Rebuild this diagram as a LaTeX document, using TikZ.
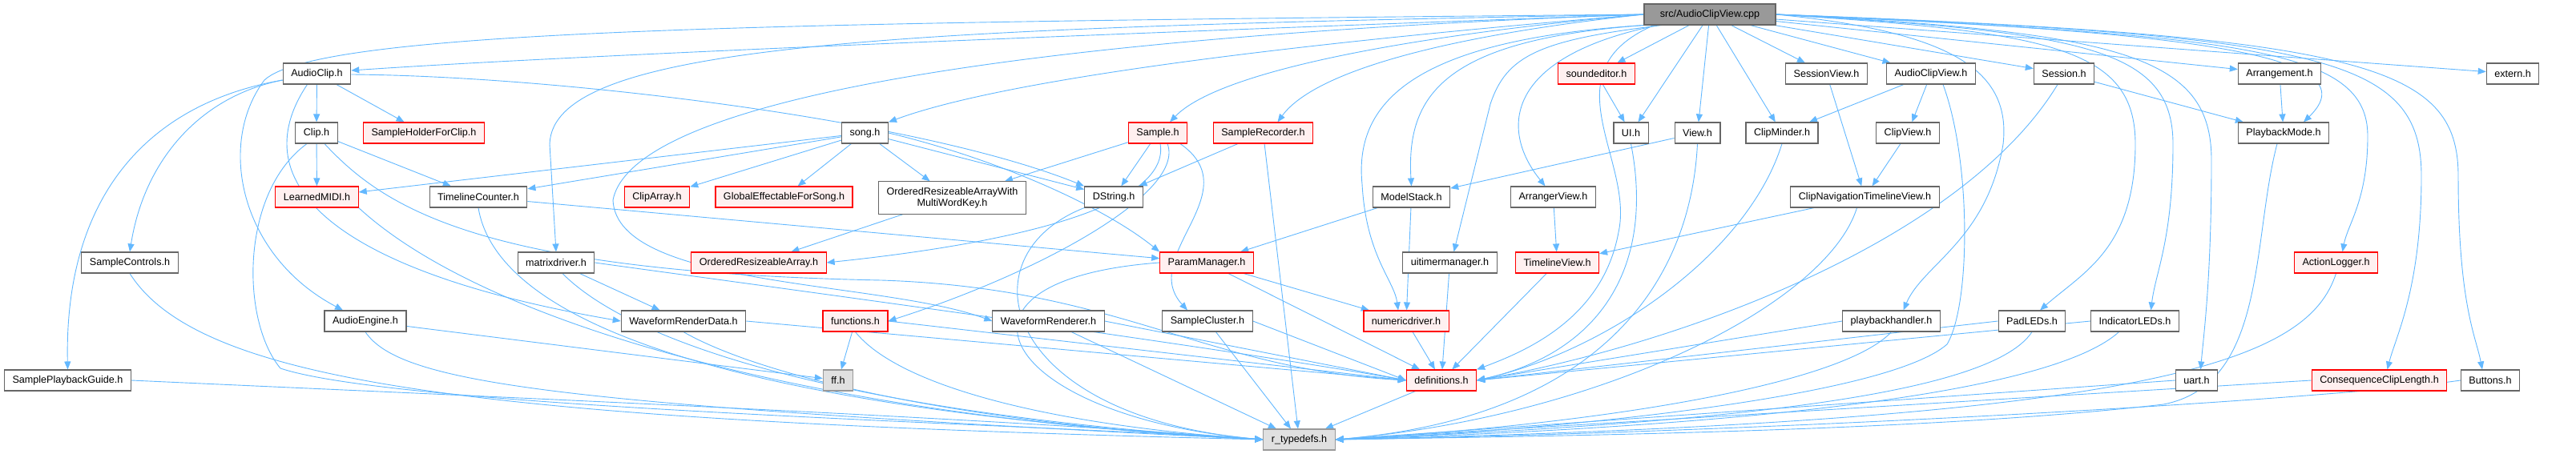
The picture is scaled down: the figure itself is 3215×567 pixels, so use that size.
\documentclass[tikz,border=0pt]{standalone}
\usepackage{fontspec}
\setmainfont{Liberation Sans}
\usetikzlibrary{arrows.meta, backgrounds}

\definecolor{incblue}{HTML}{63B8FF}
\definecolor{hdrred}{HTML}{FF0000}
\definecolor{hdrpink}{HTML}{FFF0F0}
\definecolor{hdrgray}{HTML}{666666}
\definecolor{maingray}{HTML}{999999}
\definecolor{extgray}{HTML}{E0E0E0}

\begin{document}
\begin{tikzpicture}[x=1pt, y=-1pt, >={Triangle[length=10pt,width=8pt]},
  hfile/.style={draw=hdrgray, fill=white, line width=1.1pt, inner xsep=10pt,
    inner ysep=3pt, minimum height=26pt, align=center,
    font=\fontsize{12.6}{14.5}\selectfont},
  hred/.style={hfile, draw=hdrred, fill=hdrpink},
  hmain/.style={hfile, fill=maingray},
  hext/.style={hfile, draw=maingray, fill=extgray},
  incl/.style={->, incblue, line width=0.9pt}
]
  \useasboundingbox (0,0) rectangle (3215,567);

  % row 0 and 1
  \node[hmain, minimum width=164pt] (cpp) at (2134,18) {src/AudioClipView.cpp};
  \node[hfile] (audioclip)     at (395.5,92)  {AudioClip.h};
  \node[hred]  (soundeditor)   at (1992.5,92) {soundeditor.h};
  \node[hfile] (sessionview)   at (2279.5,92) {SessionView.h};
  \node[hfile] (audioclipview) at (2410,92)   {AudioClipView.h};
  \node[hfile] (session)       at (2576,92)   {Session.h};
  \node[hfile] (arrangement)   at (2845,92)   {Arrangement.h};
  \node[hfile] (externh)       at (3136,92)   {extern.h};
  % row 2
  \node[hfile] (clip)           at (395,166)    {Clip.h};
  \node[hred]  (sampleholder)   at (529,166)    {SampleHolderForClip.h};
  \node[hfile] (song)           at (1079.5,166) {song.h};
  \node[hred]  (sample)         at (1445,166)   {Sample.h};
  \node[hred]  (samplerecorder) at (1576.5,166) {SampleRecorder.h};
  \node[hfile] (ui)             at (2035.5,166) {UI.h};
  \node[hfile] (view)           at (2118.5,166) {View.h};
  \node[hfile] (clipminder)     at (2224,166)   {ClipMinder.h};
  \node[hfile] (clipview)       at (2381,166)   {ClipView.h};
  \node[hfile] (playbackmode)   at (2850,166)   {PlaybackMode.h};
  % row 3
  \node[hred]  (learnedmidi)     at (395.5,246)  {LearnedMIDI.h};
  \node[hfile] (timelinecounter) at (597,246)    {TimelineCounter.h};
  \node[hred]  (cliparray)       at (820,246)    {ClipArray.h};
  \node[hred]  (globaleff)       at (978.5,246)  {GlobalEffectableForSong.h};
  \node[hfile, inner ysep=7pt] (orawmwk) at (1188.5,247)
    {OrderedResizeableArrayWith\\MultiWordKey.h};
  \node[hfile] (dstring)         at (1390,246)   {DString.h};
  \node[hfile] (modelstack)      at (1761.5,246) {ModelStack.h};
  \node[hfile] (arrangerview)    at (1938.5,246) {ArrangerView.h};
  \node[hfile] (clipnav)         at (2327.5,246) {ClipNavigationTimelineView.h};
  % row 4
  \node[hfile] (samplecontrols) at (162,328)    {SampleControls.h};
  \node[hfile] (matrixdriver)   at (694,328)    {matrixdriver.h};
  \node[hred]  (ordarray)       at (947,328)    {OrderedResizeableArray.h};
  \node[hred]  (parammanager)   at (1506,328)   {ParamManager.h};
  \node[hfile] (uitimer)        at (1809.5,328) {uitimermanager.h};
  \node[hred]  (timelineview)   at (1943.5,328) {TimelineView.h};
  \node[hred]  (actionlogger)   at (2915.5,328) {ActionLogger.h};
  % row 5
  \node[hfile] (audioengine)     at (456,401)    {AudioEngine.h};
  \node[hfile] (wfrenderdata)    at (853,401)    {WaveformRenderData.h};
  \node[hred]  (functions)       at (1067.5,401) {functions.h};
  \node[hfile] (wfrenderer)      at (1308.5,401) {WaveformRenderer.h};
  \node[hfile] (samplecluster)   at (1507,401)   {SampleCluster.h};
  \node[hred]  (numericdriver)   at (1755,401)   {numericdriver.h};
  \node[hfile] (playbackhandler) at (2360.5,401) {playbackhandler.h};
  \node[hfile] (padleds)         at (2536,401)   {PadLEDs.h};
  \node[hfile] (indicatorleds)   at (2664.5,401) {IndicatorLEDs.h};
  % row 6 and 7
  \node[hfile] (sampleplayback) at (84.5,475)   {SamplePlaybackGuide.h};
  \node[hext]  (ffh)            at (1046,475)   {ff.h};
  \node[hred]  (definitions)    at (1799,475)   {definitions.h};
  \node[hfile] (uart)           at (2741.5,475) {uart.h};
  \node[hred]  (consequence)    at (2969.5,475) {ConsequenceClipLength.h};
  \node[hfile] (buttons)        at (3108,475)   {Buttons.h};
  \node[hext]  (rtypedefs)      at (1621.5,549) {r\_typedefs.h};

  \begin{scope}[on background layer]
  % includes of the cpp file
  \draw[incl] (cpp.west) .. controls (1300,45) and (700,70) .. ([yshift=4pt]audioclip.east);
  \draw[incl] (cpp.west) .. controls (1000,28) and (400,35) .. (330,100)
    .. controls (270,180) and (300,320) .. ([xshift=-28pt]audioengine.north);
  \draw[incl] (cpp.west) .. controls (1100,35) and (690,55) .. (686,180) -- (matrixdriver.north);
  \draw[incl] (cpp.west) .. controls (1600,55) and (1250,100) .. (song.north east);
  \draw[incl] (cpp.west) .. controls (1300,45) and (790,120) .. (765,250)
    .. controls (770,360) and (1100,350) .. (wfrenderer.west);
  \draw[incl] (cpp.west) .. controls (1750,45) and (1520,90) .. ([xshift=15pt]sample.north);
  \draw[incl] (cpp.west) .. controls (1800,45) and (1640,90) .. ([xshift=18pt]samplerecorder.north);
  \draw[incl] (cpp.south west) .. controls (1760,50) and (1690,130) .. (1700,230)
    .. controls (1705,320) and (1740,350) .. ([xshift=-10pt]numericdriver.north);
  \draw[incl] (cpp.south west) .. controls (1800,50) and (1755,120) .. (modelstack.north);
  \draw[incl] ([xshift=-60pt]cpp.south) .. controls (1920,50) and (1880,70) .. (1860,130)
    -- ([xshift=5pt]uitimer.north);
  \draw[incl] ([xshift=-65pt]cpp.south) .. controls (1880,70) and (1870,160) .. ([xshift=-10pt]arrangerview.north);
  \draw[incl] ([xshift=-70pt]cpp.south) .. controls (1930,90) and (2040,200) .. (2020,290)
    .. controls (2000,400) and (1900,440) .. (definitions.north east);
  \draw[incl] (cpp) -- (soundeditor);
  \draw[incl] (cpp) -- (ui);
  \draw[incl] (cpp) -- (view);
  \draw[incl] (cpp) -- (clipminder);
  \draw[incl] (cpp) -- (sessionview);
  \draw[incl] (cpp) -- (audioclipview);
  \draw[incl] (cpp) -- (session);
  \draw[incl] (cpp) -- (arrangement);
  \draw[incl] (cpp) -- (externh);
  \draw[incl] (cpp.east) .. controls (2750,40) and (2960,70) .. ([xshift=25pt]playbackmode.north);
  \draw[incl] (cpp.east) .. controls (2440,40) and (2510,90) .. (2500,180)
    .. controls (2480,300) and (2400,330) .. ([xshift=15pt]playbackhandler.north);
  \draw[incl] (cpp.east) .. controls (2560,40) and (2665,60) .. (2665,180)
    .. controls (2665,310) and (2600,340) .. ([xshift=10pt]padleds.north);
  \draw[incl] (cpp.east) .. controls (2600,40) and (2712,60) .. (2712,180)
    .. controls (2712,300) and (2690,340) .. ([xshift=20pt]indicatorleds.north);
  \draw[incl] (cpp.east) .. controls (2650,40) and (2760,70) .. (2760,200)
    .. controls (2760,350) and (2750,420) .. ([xshift=5pt]uart.north);
  \draw[incl] (cpp.east) .. controls (2800,45) and (2955,60) .. (2955,170)
    .. controls (2955,250) and (2930,280) .. ([xshift=8pt]actionlogger.north);
  \draw[incl] (cpp.east) .. controls (2900,45) and (3022,70) .. (3022,220)
    .. controls (3022,360) and (2990,420) .. ([xshift=10pt]consequence.north);
  \draw[incl] (cpp.east) .. controls (2950,45) and (3068,80) .. (3068,220)
    .. controls (3068,380) and (3090,420) .. ([xshift=-10pt]buttons.north);

  % left part
  \draw[incl] (audioclip) -- (clip);
  \draw[incl] (audioclip) -- (sampleholder);
  \draw[incl] ([yshift=-1pt]audioclip.east) .. controls (700,95) and (1150,150) .. (dstring.north west);
  \draw[incl] ([yshift=-8pt]audioclip.west) .. controls (250,120) and (180,200) .. (samplecontrols.north);
  \draw[incl] ([yshift=-8pt]audioclip.west) .. controls (180,130) and (80,250) .. (sampleplayback.north);
  \draw[incl] ([xshift=-12pt]audioclip.south) .. controls (300,230) and (420,340) .. (wfrenderdata.west);
  \draw[incl] (clip) -- (learnedmidi);
  \draw[incl] (clip) -- (timelinecounter);
  \draw[incl] ([xshift=-12pt]clip.south) .. controls (300,240) and (300,400) .. (350,460)
    .. controls (500,510) and (1300,530) .. (rtypedefs.west);
  \draw[incl] ([xshift=10pt]clip.south) .. controls (480,260) and (600,340) .. (1100,350)
    .. controls (1400,360) and (1500,460) .. (definitions.west);
  \draw[incl] (learnedmidi.south east) .. controls (600,400) and (1000,520) .. (rtypedefs.west);
  \draw[incl] (timelinecounter) -- (parammanager);
  \draw[incl] (timelinecounter.south) .. controls (620,400) and (900,510) .. (rtypedefs.west);
  \draw[incl] (samplecontrols.south) .. controls (250,480) and (600,525) .. (rtypedefs.west);
  \draw[incl] (sampleplayback.east) .. controls (600,495) and (1200,520) .. (rtypedefs.west);
  \draw[incl] (audioengine) -- (ffh);
  \draw[incl] (audioengine.south) .. controls (500,480) and (700,505) .. (rtypedefs.west);
  \draw[incl] (matrixdriver) -- (wfrenderdata);
  \draw[incl] (matrixdriver.east) .. controls (900,350) and (1500,430) .. (definitions.west);
  \draw[incl] ([xshift=8pt]matrixdriver.south) .. controls (800,440) and (1100,520) .. (rtypedefs.west);
  \draw[incl] (wfrenderdata.east) -- (definitions.west);
  \draw[incl] (wfrenderdata.south) .. controls (950,470) and (1200,530) .. (rtypedefs.west);

  % song, samples and params
  \draw[incl] (song) -- (learnedmidi);
  \draw[incl] (song) -- (timelinecounter);
  \draw[incl] (song) -- (cliparray);
  \draw[incl] (song) -- (globaleff);
  \draw[incl] (song) -- (orawmwk);
  \draw[incl] (song) -- (dstring);
  \draw[incl] (song.east) .. controls (1250,200) and (1380,260) .. (parammanager.north west);
  \draw[incl] (sample) -- (dstring);
  \draw[incl] (sample) -- (orawmwk);
  \draw[incl] ([xshift=3pt]sample.south) .. controls (1460,250) and (1300,300) .. (ordarray.east);
  \draw[incl] ([xshift=12pt]sample.south) .. controls (1480,240) and (1300,340) .. (functions.east);
  \draw[incl] ([xshift=28pt]sample.south) .. controls (1560,240) and (1420,320) .. ([xshift=-25pt]samplecluster.north);
  \draw[incl] (samplerecorder) -- (dstring);
  \draw[incl] (samplerecorder) -- (rtypedefs);
  \draw[incl] (orawmwk) -- (ordarray);
  \draw[incl] (dstring.south west) .. controls (1200,320) and (1250,520) .. (rtypedefs.west);
  \draw[incl] (parammanager) -- (numericdriver);
  \draw[incl] (parammanager) -- (definitions);
  \draw[incl] (parammanager.west) .. controls (1150,350) and (1250,520) .. (rtypedefs.west);
  \draw[incl] (functions) -- (ffh);
  \draw[incl] (functions.east) -- (definitions.west);
  \draw[incl] (functions.south) .. controls (1120,480) and (1300,530) .. (rtypedefs.west);
  \draw[incl] (wfrenderer.east) -- (definitions.west);
  \draw[incl] (wfrenderer) -- (rtypedefs);
  \draw[incl] (samplecluster.east) -- (definitions.west);
  \draw[incl] (samplecluster) -- (rtypedefs);

  % views
  \draw[incl] (soundeditor) -- (ui);
  \draw[incl] (view) -- (modelstack);
  \draw[incl] (view.south) .. controls (2110,350) and (2000,520) .. (rtypedefs.east);
  \draw[incl] (ui.south) .. controls (2065,330) and (2000,440) .. (definitions.east);
  \draw[incl] (clipminder.south) .. controls (2180,320) and (2000,440) .. (definitions.east);
  \draw[incl] (audioclipview) -- (clipminder);
  \draw[incl] (audioclipview) -- (clipview);
  \draw[incl] ([xshift=15pt]audioclipview.south) .. controls (2460,200) and (2460,380) .. (2430,430)
    .. controls (2350,500) and (1900,540) .. (rtypedefs.east);
  \draw[incl] (sessionview) -- (clipnav);
  \draw[incl] (clipview) -- (clipnav);
  \draw[incl] (clipnav) -- (timelineview);
  \draw[incl] ([xshift=-10pt]clipnav.south) .. controls (2280,380) and (2000,520) .. (rtypedefs.east);
  \draw[incl] (session) -- (playbackmode);
  \draw[incl] ([xshift=-8pt]session.south) .. controls (2450,300) and (2100,430) .. (definitions.east);
  \draw[incl] (arrangement) -- (playbackmode);
  \draw[incl] ([xshift=-8pt]playbackmode.south) .. controls (2810,300) and (2830,480) .. (2700,505)
    .. controls (2400,540) and (1900,545) .. (rtypedefs.east);
  \draw[incl] (arrangerview) -- (timelineview);
  \draw[incl] (modelstack) -- (parammanager);
  \draw[incl] (modelstack) -- (numericdriver);
  \draw[incl] (uitimer) -- (definitions);
  \draw[incl] (timelineview) -- (definitions);
  \draw[incl] (numericdriver) -- (definitions);
  \draw[incl] (actionlogger.south) .. controls (2880,450) and (2700,525) .. (rtypedefs.east);

  % lower right
  \draw[incl] (playbackhandler.west) -- (definitions.east);
  \draw[incl] (playbackhandler.south) .. controls (2300,480) and (2000,530) .. (rtypedefs.east);
  \draw[incl] (padleds.west) -- (definitions.east);
  \draw[incl] (padleds.south) .. controls (2480,500) and (2100,530) .. (rtypedefs.east);
  \draw[incl] (indicatorleds.west) -- (definitions.east);
  \draw[incl] ([xshift=-20pt]indicatorleds.south) .. controls (2550,500) and (2100,535) .. (rtypedefs.east);
  \draw[incl] (uart.west) -- (rtypedefs.east);
  \draw[incl] (consequence.west) -- (rtypedefs.east);
  \draw[incl] (buttons.west) .. controls (2900,500) and (2200,540) .. (rtypedefs.east);
  \draw[incl] (definitions) -- (rtypedefs);
  \end{scope}
\end{tikzpicture}
\end{document}
